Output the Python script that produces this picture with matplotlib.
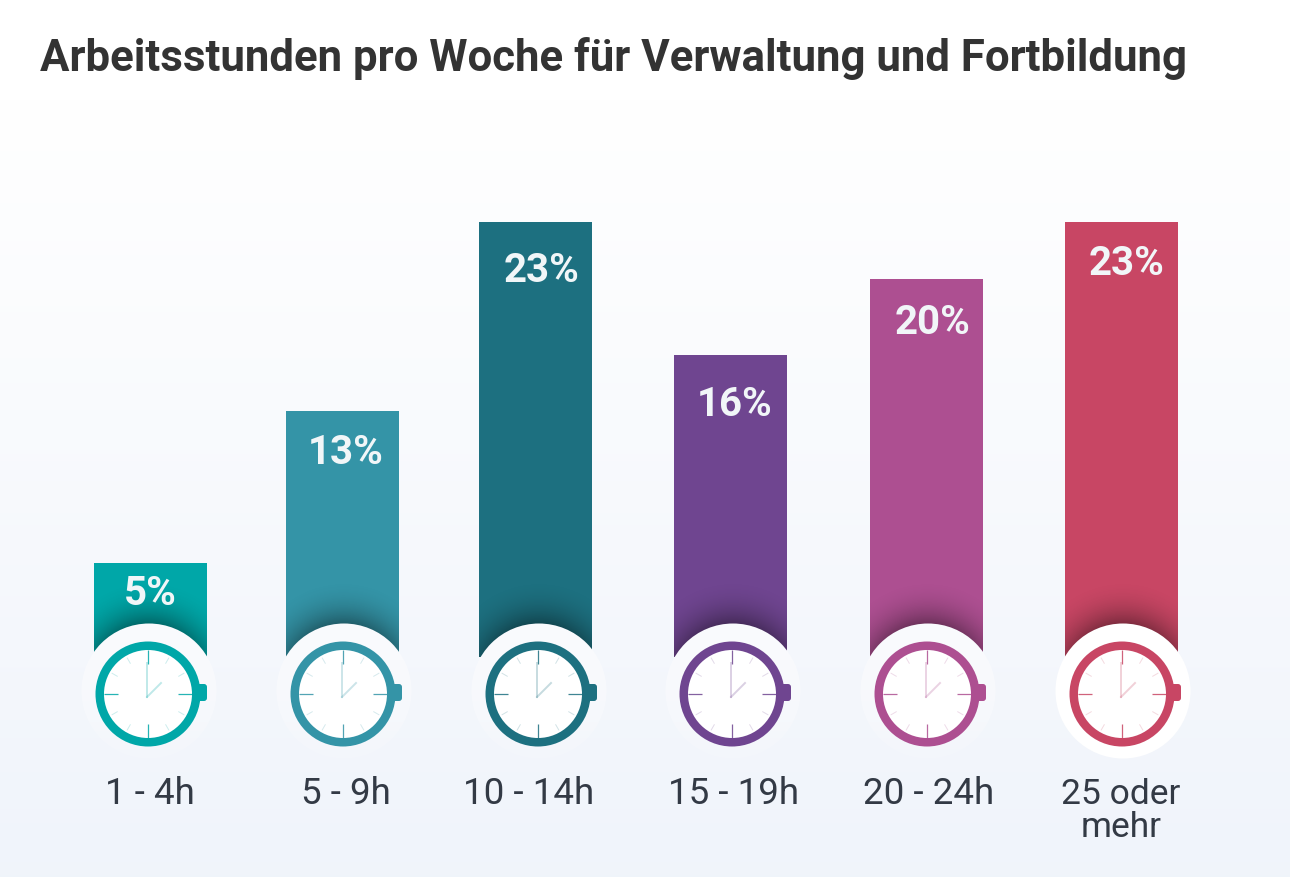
from matplotlib import pyplot as plt
from matplotlib.patches import Circle, FancyBboxPatch, Rectangle
import numpy as np

title = "Arbeitsstunden pro Woche für Verwaltung und Fortbildung"
categories = ["1 - 4h", "5 - 9h", "10 - 14h", "15 - 19h", "20 - 24h", "25 oder\nmehr"]
values = [5, 13, 23, 16, 20, 23]
value_labels = ["5%", "13%", "23%", "16%", "20%", "23%"]
colors = ["#00a7a8", "#3494a7", "#1d7080", "#6f4590", "#ad4f91", "#c84664"]

W, H = 1290, 878
bar_x = [150.5, 342.5, 535, 730, 926.5, 1121]
clock_x = [148, 343, 538, 732, 927, 1122]
label_x = [150, 346, 529, 734, 929, 1121]
value_x = [150, 346, 542, 735, 933, 1127]
value_y = [594, 453, 271, 405, 323, 264]
CLOCK_Y = 695
BASE_Y = 658  # pixel row of the zero line
UNIT = 18.9   # pixels per percent

plt.rcParams['font.family'] = ['Roboto', 'DejaVu Sans']

fig = plt.figure(figsize=(W / 100, H / 100), dpi=100)

# background and overlay work in pixel coordinates
bg = fig.add_axes([0, 0, 1, 1], zorder=0)
bg.set_xlim(0, W); bg.set_ylim(H, 0); bg.axis('off')
grad = np.ones((H, 1, 3))
t = np.clip((np.arange(H) - 100) / (H - 100), 0, 1)
for i, c in enumerate((0.941, 0.957, 0.984)):
    grad[:, 0, i] = 1 - (1 - c) * t
bg.imshow(grad, extent=(0, W, H, 0), aspect='auto', zorder=0)

# bars on their own axes, the scale puts 0 at BASE_Y
top_val = BASE_Y / UNIT
ax = fig.add_axes([0, (H - BASE_Y) / H, 1, BASE_Y / H], zorder=1)
ax.patch.set_alpha(0)
ax.set_xlim(0, W); ax.set_ylim(0, top_val); ax.axis('off')
ax.bar(bar_x, values, width=113, color=colors, linewidth=0)

over = fig.add_axes([0, 0, 1, 1], zorder=2)
over.patch.set_alpha(0)
over.set_xlim(0, W); over.set_ylim(H, 0); over.axis('off')

yy, xx = np.mgrid[0:H, 0:W]

for i, cx in enumerate(clock_x):
    col = colors[i]
    hc = (cx + 1, CLOCK_Y - 3)

    # shadow cast by the white disc on the bar
    r = np.hypot(xx - cx, yy - (CLOCK_Y - 16))
    alpha = np.clip(1 - (r - 48) / 52, 0, 1) ** 2.2 * 0.5
    img = np.zeros((H, W, 4))
    img[..., 3] = alpha
    im = over.imshow(img, extent=(0, W, H, 0), aspect='auto', zorder=1, interpolation='bilinear')
    im.set_clip_path(Rectangle((bar_x[i] - 56.5, BASE_Y - values[i] * UNIT), 113, values[i] * UNIT,
                               transform=over.transData))

    # white disc fades out towards the bottom, except for the last clock
    disc = np.ones((H, W, 4))
    disc[..., :3] = (0.98, 0.984, 0.996)
    if i == 5:
        disc[..., :3] = 1.0
    else:
        disc[..., 3] = np.clip(1 - (yy - 660) / 100 * 0.8, 0.2, 1)
    im2 = over.imshow(disc, extent=(0, W, H, 0), aspect='auto', zorder=3)
    im2.set_clip_path(Circle(hc, 67.5, transform=over.transData))

    # crown, ring, face
    over.add_patch(FancyBboxPatch((cx + 48, CLOCK_Y - 10), 11, 17, boxstyle="round,pad=0,rounding_size=3",
                                  fc=col, ec='none', zorder=4))
    over.add_patch(Circle((cx, CLOCK_Y), 52.5, fc=col, ec='none', zorder=5))
    over.add_patch(Circle((cx, CLOCK_Y), 44, fc='white', ec='none', zorder=6))

    # tick marks
    for k in range(12):
        ang = np.radians(k * 30)
        major = k % 3 == 0
        r0, r1 = (30, 44) if major else (35, 42)
        over.plot([cx + r0 * np.sin(ang), cx + r1 * np.sin(ang)],
                  [CLOCK_Y - r0 * np.cos(ang), CLOCK_Y - r1 * np.cos(ang)],
                  color=col, lw=0.9 if major else 0.7, alpha=0.85 if major else 0.2,
                  zorder=7, solid_capstyle='butt')

    # hands
    hx, hy = cx - 1, CLOCK_Y + 3
    over.plot([hx, hx], [hy, hy - 34], color=col, lw=1.4, alpha=0.25, zorder=8)
    over.plot([hx, hx + 14], [hy, hy - 14], color=col, lw=1.4, alpha=0.25, zorder=8)

    over.text(value_x[i], value_y[i], value_labels[i], color='#f1f6f8', fontsize=29, fontweight='bold',
              ha='center', va='center', zorder=9)
    over.text(label_x[i], 794 if i < 5 else 811, categories[i], color='#333a45',
              fontsize=26.5 if i < 5 else 25.5,
              ha='center', va='center', linespacing=1.0, zorder=9)

over.text(40, 58, title, color='#333333', fontsize=31.5, fontweight='bold', ha='left', va='center', zorder=9)

fig.savefig('out.png', dpi=100)
